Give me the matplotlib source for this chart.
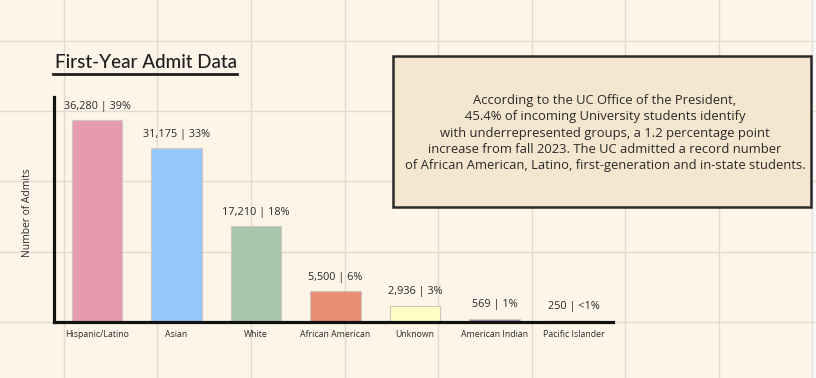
import matplotlib.pyplot as plt
from matplotlib.patches import Rectangle
from matplotlib.lines import Line2D

# data
groups = ["Hispanic/Latino", "Asian", "White", "African American",
          "Unknown", "American Indian", "Pacific Islander"]
admits = [36280, 31175, 17210, 5500, 2936, 569, 250]
shares = ["39%", "33%", "18%", "6%", "3%", "1%", "<1%"]
colors = ["#E69AAE", "#96C8FB", "#A8C5AE", "#E88E72",
          "#FFFFC4", "#A484BC", "#A50000"]

note = ("According to the UC Office of the President,\n"
        "45.4% of incoming University students identify\n"
        "with underrepresented groups, a 1.2 percentage point\n"
        "increase from fall 2023. The UC admitted a record number\n"
        "of African American, Latino, first-generation and in-state students.")

plt.rcParams['font.family'] = ['Open Sans', 'DejaVu Sans']

W, H = 816, 378
fig = plt.figure(figsize=(W / 100, H / 100), dpi=100)
fig.patch.set_facecolor("#FDF6E8")

# graph paper background
bg = fig.add_axes([0, 0, 1, 1], zorder=0)
bg.set_xlim(0, W)
bg.set_ylim(H, 0)
bg.axis("off")
for gx in [64, 157, 251, 345, 438, 532, 625, 719]:
    bg.axvline(gx, color="#E3DCCE", lw=1)
for gy in [41, 111, 181, 252, 322]:
    bg.axhline(gy, color="#E3DCCE", lw=1)
bg.add_line(Line2D([812, 812], [0, H], color="#E0E0E0", lw=1))
bg.add_patch(Rectangle((813, 0), 3, H, color="#FAFAFA", lw=0))

# title with underline
bg.text(146, 63, "First-Year Admit Data", fontsize=13.6, family=["Lato", "DejaVu Sans"],
        ha="center", va="center", color="#1E1E1E", fontweight="medium")
bg.add_line(Line2D([53, 237], [74, 74], color="#1E1E1E", lw=2))

# note box
bg.add_patch(Rectangle((393, 56), 418, 151, facecolor="#F5E6CF",
                       edgecolor="#2A2A2A", lw=1.8, zorder=2))
bg.text(605, 133, note, fontsize=9.4, ha="center", va="center",
        linespacing=1.33, color="#2A2A2A", zorder=3)

# bar chart
ax = fig.add_axes([54 / W, 1 - 322 / H, (613 - 54) / W, (322 - 97) / H], zorder=1)
ax.patch.set_alpha(0)
x = list(range(len(groups)))
bars = ax.bar(x, admits, width=0.63, color=colors, edgecolor="#D0C8C0", linewidth=0.8)
bars[-1].set_edgecolor(colors[-1])  # dark bar keeps its own edge
for i, v in enumerate(admits):
    ax.annotate(f"{v:,} | {shares[i]}", (i, v), xytext=(0, 6), textcoords="offset points",
                ha="center", va="bottom", fontsize=7.8, color="#2A2A2A")
ax.set_xlim(-0.54, 6.49)
ax.set_ylim(0, 40400)
ax.set_xticks(x)
ax.set_xticklabels(groups, fontsize=6.3, color="#2A2A2A")
ax.tick_params(axis="x", length=0, pad=6)
ax.set_yticks([])
for s in ["top", "right"]:
    ax.spines[s].set_visible(False)
for s in ["left", "bottom"]:
    ax.spines[s].set_linewidth(2.3)
    ax.spines[s].set_color("#111111")

bg.text(28, 213, "Number of Admits", rotation=90, fontsize=7.4,
        ha="center", va="center", color="#2A2A2A")

fig.savefig("out.png", dpi=100, facecolor=fig.get_facecolor())
